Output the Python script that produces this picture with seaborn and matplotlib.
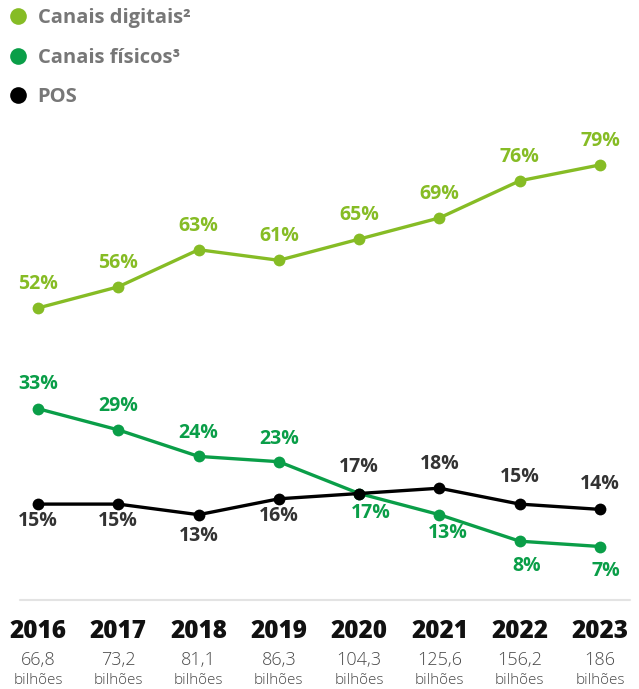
import matplotlib
matplotlib.use("Agg")
import matplotlib.pyplot as plt
from matplotlib.lines import Line2D
from matplotlib.transforms import blended_transform_factory
import seaborn as sns
import pandas as pd

# ---- data ----
years = ["2016", "2017", "2018", "2019", "2020", "2021", "2022", "2023"]
volumes = ["66,8", "73,2", "81,1", "86,3", "104,3", "125,6", "156,2", "186"]
digital = [52, 56, 63, 61, 65, 69, 76, 79]
physical = [33, 29, 24, 23, 17, 13, 8, 7]
pos = [15, 15, 13, 16, 17, 18, 15, 14]

series_names = ["Canais digitais²", "Canais físicos³", "POS"]
line_colors = ["#86bc25", "#0a9e48", "#000000"]
label_colors = ["#86bc25", "#0a9e48", "#333333"]

# label offsets in pixels (dx, dy) relative to each point
digital_off = [(0, 24)] * 8
physical_off = [(0, 25), (0, 24), (0, 23), (0, 23), (12, -19), (8, -18), (7, -25), (6, -25)]
pos_off = [(0, -17), (0, -17), (0, -21), (0, -17), (0, 27), (0, 24), (0, 27), (0, 25)]

sns.set_theme(style="white")
plt.rcParams["font.family"] = ["Open Sans", "DejaVu Sans"]

W, H = 639, 689
fig = plt.figure(figsize=(W / 100, H / 100), dpi=100)
ax = fig.add_axes([0, 0, 1, 1])
ax.set_axis_off()

x0_px, step_px = 38, 80.29
y0_px, ppp = 583.6, 5.3
ax.set_xlim(-x0_px / step_px, (W - x0_px) / step_px)
ax.set_ylim((y0_px - H) / ppp, y0_px / ppp)

idx = list(range(len(years)))
frames = []
for name, vals in zip(series_names, [digital, physical, pos]):
    frames.append(pd.DataFrame({"i": idx, "v": vals, "serie": name}))
df = pd.concat(frames, ignore_index=True)

for name, col in zip(series_names, line_colors):
    sns.lineplot(data=df[df["serie"] == name], x="i", y="v", color=col,
                 linewidth=2.4, marker="o", markersize=8.5, markeredgewidth=0,
                 ax=ax, legend=False)

for vals, offs, col in zip([digital, physical, pos],
                           [digital_off, physical_off, pos_off], label_colors):
    for i, (v, (dx, dy)) in enumerate(zip(vals, offs)):
        ax.annotate(f"{v}%", (i, v), xytext=(dx, dy), textcoords="offset pixels",
                    ha="center", va="center", fontsize=14, fontweight="bold",
                    color=col)

# baseline under the chart
trans = blended_transform_factory(ax.transData, fig.transFigure)
fig.add_artist(Line2D([20 / W, 630 / W], [1 - 600 / H, 1 - 600 / H],
                      transform=fig.transFigure, color="#e3e3e3", linewidth=1.5))

for i, (yr, vol) in enumerate(zip(years, volumes)):
    ax.text(i, 1 - 631 / H, yr, transform=trans, ha="center", va="center",
            fontsize=17.5, fontweight=800, color="#111111")
    ax.text(i, 1 - 660 / H, vol, transform=trans, ha="center", va="center",
            fontsize=13, fontweight="light", color="#4a4a4a")
    ax.text(i, 1 - 680 / H, "bilhões", transform=trans, ha="center", va="center",
            fontsize=11, fontweight="light", color="#4a4a4a")

handles = [Line2D([], [], marker="o", linestyle="none", color=c, markersize=12,
                  markeredgewidth=0) for c in line_colors]
leg = fig.legend(handles, series_names, loc="upper left",
                 bbox_to_anchor=(9.5 / W, 1 - 8.5 / H), frameon=False,
                 borderpad=0, borderaxespad=0, handlelength=0.85,
                 handletextpad=0.55, labelspacing=0.95,
                 prop={"family": ["Open Sans", "DejaVu Sans"], "weight": "bold",
                       "size": 14.5})
for t in leg.get_texts():
    t.set_color("#777777")

fig.savefig("out.png", dpi=100)
